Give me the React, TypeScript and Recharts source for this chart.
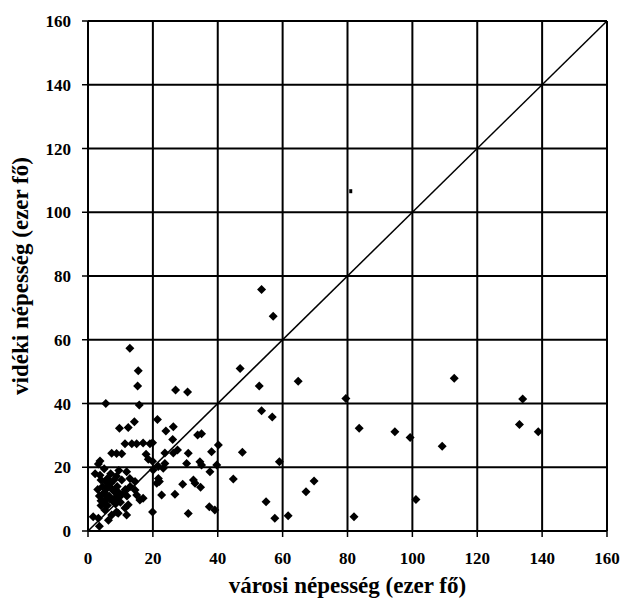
import React from "react";
import {
  ScatterChart,
  Scatter,
  XAxis,
  YAxis,
  CartesianGrid,
  ReferenceLine,
  Label,
} from "recharts";

document.body.style.margin = "0";

// városi népesség (x) and vidéki népesség (y), ezer fő
const urbanPop = [
  12.9, 15.5, 15.3, 27, 30.7, 46.9, 52.8, 53.5, 57.1, 64.8, 79.5, 53.5, 56.8, 83.6, 94.6, 99.3,
  47.6, 59, 69.7, 67.2, 54.9, 57.6, 61.7, 82, 101.1, 112.9, 134, 133, 138.8, 109.2, 44.8,
  21.4, 24, 26.3, 26.1, 33.8, 35, 23.7, 26.3, 27.6, 30.9, 38.1, 40.2, 19.9, 19.9, 21.7, 23.2,
  23.7, 30.4, 34.5, 35, 37.6, 39.7, 21.7, 22, 29.2, 32.5, 33, 34.7, 22.7, 26.8, 37.4, 39.1,
  30.9, 19.9, 5.5, 15.8, 14.3, 9.7, 12.4, 11.4, 13.5, 15, 17, 19.1, 7.3, 8.8, 10.4, 17.9,
  18.6, 3.7, 3.2, 2.2, 3.7, 8.8, 10.4, 11.9, 12.9, 14.5, 14.5, 15, 16, 17, 20.1, 21.2, 1.6,
  3.2, 5.2, 7.3, 8.8, 11.4, 12.4, 3.5, 4.5, 5, 5.5, 6, 6.5, 7, 7.5, 8, 8.5, 9, 9.5, 10, 4,
  6, 10.5, 11.5, 12, 13, 4.5, 7, 9.5, 6, 5, 6.3, 9.3, 11.9,
  3, 4, 5.5, 6.5, 7.5, 8, 4, 5, 6.8, 9, 3.5, 8.5,
];
const ruralPop = [
  57.3, 50.3, 45.5, 44.2, 43.6, 51, 45.5, 75.8, 67.4, 47, 41.6, 37.7, 35.8, 32.2, 31.1, 29.3,
  24.7, 21.7, 15.7, 12.3, 9.2, 4, 4.8, 4.5, 9.9, 47.9, 41.4, 33.4, 31.1, 26.6, 16.3,
  35, 31.4, 32.7, 28.7, 30.1, 30.5, 24.5, 24.5, 25.4, 24.4, 24.9, 27, 27.7, 21.9, 20.2, 19.7,
  21.2, 21.2, 21.7, 20.7, 18.6, 20.7, 16.5, 15.5, 14.7, 16, 15, 13.7, 11.3, 11.5, 7.6, 6.6,
  5.5, 6, 40, 39.5, 34.3, 32.2, 32.5, 27.4, 27.4, 27.4, 27.6, 27.4, 24.4, 24.3, 24.2, 24.1,
  22.5, 22, 21, 18, 17.5, 17.2, 16, 18.6, 16.5, 15.5, 12.9, 11.3, 9.7, 10.3, 19.1, 15, 4.5,
  4, 6.6, 5, 6, 7.2, 8.2, 1.5, 14, 12, 10, 13.5, 11, 15, 9.5, 12.5, 10.5, 14, 12, 9, 9.5,
  8, 11.5, 13, 11, 14, 11.5, 18, 19, 16.5, 19.5, 3.4, 5.6, 5,
  13, 16, 15.5, 14.5, 13, 16, 8, 9, 10, 10.5, 11, 8.5,
];
// a faint single mark near the 80 gridline
const faintUrban = [81];
const faintRural = [106.6];

const axisTicks = [0, 20, 40, 60, 80, 100, 120, 140, 160];

const points = urbanPop.map((x, i) => ({ x, y: ruralPop[i] }));
const faintPoints = faintUrban.map((x, i) => ({ x, y: faintRural[i] }));

const serif = "'Liberation Serif', 'Times New Roman', serif";
const tickStyle = { fontFamily: serif, fontSize: 17, fontWeight: 700, fill: "#000" };

const Diamond = (props: any) => {
  const { cx, cy } = props;
  const r = 4.5;
  return <path d={`M${cx},${cy - r}L${cx + r},${cy}L${cx},${cy + r}L${cx - r},${cy}Z`} fill="#000" />;
};

const SmallDot = (props: any) => {
  const { cx, cy } = props;
  return <rect x={cx - 1.5} y={cy - 2} width={3} height={4} fill="#000" />;
};

export default function App() {
  return (
    <div style={{ width: 620, height: 600, background: "#fff" }}>
      <ScatterChart width={620} height={600} margin={{ top: 21, right: 13, bottom: 0, left: 0 }}>
        <CartesianGrid stroke="#000" strokeWidth={2} />
        <XAxis
          type="number"
          dataKey="x"
          domain={[0, 160]}
          ticks={axisTicks}
          height={69}
          tick={tickStyle}
          tickSize={6}
          tickMargin={15}
          axisLine={{ stroke: "#000", strokeWidth: 2 }}
          tickLine={{ stroke: "#000", strokeWidth: 1.5 }}
          allowDataOverflow
        >
          <Label
            content={(p: any) => {
              const vb = p.viewBox;
              return (
                <text
                  x={vb.x + vb.width / 2}
                  y={vb.y + 62}
                  textAnchor="middle"
                  fontFamily={serif}
                  fontWeight={700}
                  fontSize={23}
                  fill="#000"
                >
                  városi népesség (ezer fő)
                </text>
              );
            }}
          />
        </XAxis>
        <YAxis
          type="number"
          dataKey="y"
          domain={[0, 160]}
          ticks={axisTicks}
          width={88}
          tick={tickStyle}
          tickSize={6}
          tickMargin={11}
          axisLine={{ stroke: "#000", strokeWidth: 2 }}
          tickLine={{ stroke: "#000", strokeWidth: 1.5 }}
          allowDataOverflow
        >
          <Label
            content={(p: any) => {
              const vb = p.viewBox;
              const cy = vb.y + vb.height / 2;
              return (
                <text
                  x={28}
                  y={cy}
                  transform={`rotate(-90, 28, ${cy})`}
                  textAnchor="middle"
                  fontFamily={serif}
                  fontWeight={700}
                  fontSize={23}
                  fill="#000"
                >
                  vidéki népesség (ezer fő)
                </text>
              );
            }}
          />
        </YAxis>
        <ReferenceLine
          segment={[
            { x: 0, y: 0 },
            { x: 160, y: 160 },
          ]}
          stroke="#000"
          strokeWidth={1.5}
          ifOverflow="visible"
        />
        <Scatter data={points} shape={Diamond} isAnimationActive={false} />
        <Scatter data={faintPoints} shape={SmallDot} isAnimationActive={false} />
      </ScatterChart>
    </div>
  );
}
